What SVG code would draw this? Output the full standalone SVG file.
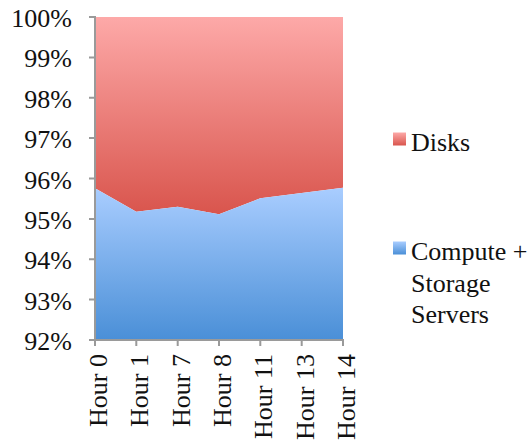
<svg xmlns="http://www.w3.org/2000/svg" width="532" height="443" viewBox="0 0 532 443">
  <style>
    .axis { stroke: #9a9a9a; stroke-width: 2; fill: none; }
  </style>
  <defs>
    <linearGradient id="gRed" gradientUnits="userSpaceOnUse" x1="0" y1="17" x2="0" y2="214">
      <stop offset="0" stop-color="#FDA9A8"/>
      <stop offset="1" stop-color="#D9554D"/>
    </linearGradient>
    <linearGradient id="gBlue" gradientUnits="userSpaceOnUse" x1="0" y1="188" x2="0" y2="340">
      <stop offset="0" stop-color="#A9CDFF"/>
      <stop offset="1" stop-color="#4A8FD7"/>
    </linearGradient>
    <linearGradient id="lRed" x1="0" y1="0" x2="0" y2="1">
      <stop offset="0" stop-color="#FDA9A8"/>
      <stop offset="1" stop-color="#D9554D"/>
    </linearGradient>
    <linearGradient id="lBlue" x1="0" y1="0" x2="0" y2="1">
      <stop offset="0" stop-color="#A9CDFF"/>
      <stop offset="1" stop-color="#4A8FD7"/>
    </linearGradient>
  </defs>
  <rect width="532" height="443" fill="#ffffff"/>

  <!-- stacked areas -->
  <g id="series-disks">
    <polygon fill="url(#gRed)" points="95,17 343,17 343,187.7 301.7,193 260.3,198.3 219,214.3 177.7,206.7 136.3,211.7 95,188.3"/>
  </g>
  <g id="series-servers">
    <polygon fill="url(#gBlue)" points="95,188.3 136.3,211.7 177.7,206.7 219,214.3 260.3,198.3 301.7,193 343,187.7 343,340 95,340"/>
  </g>

  <!-- axes and ticks -->
  <g id="axes">
    <path class="axis" d="M95,16 V341 M94,340 H344"/>
    <path class="axis" d="M89,17 H95 M89,57.4 H95 M89,97.8 H95 M89,138.1 H95 M89,178.5 H95 M89,218.9 H95 M89,259.3 H95 M89,299.6 H95 M89,340 H95"/>
    <path class="axis" d="M95,340 V346 M136.3,340 V346 M177.7,340 V346 M219,340 V346 M260.3,340 V346 M301.7,340 V346 M343,340 V346"/>
  </g>

  <g font-family="Liberation Serif, Times New Roman, serif" font-size="26" fill="#111">
    <!-- y axis labels -->
    <g id="y-labels" text-anchor="end">
      <text x="72" y="27">100%</text>
      <text x="72" y="67.4">99%</text>
      <text x="72" y="107.8">98%</text>
      <text x="72" y="148.1">97%</text>
      <text x="72" y="188.5">96%</text>
      <text x="72" y="228.9">95%</text>
      <text x="72" y="269.3">94%</text>
      <text x="72" y="309.6">93%</text>
      <text x="72" y="350">92%</text>
    </g>

    <!-- x axis labels -->
    <g id="x-labels" text-anchor="end">
      <text transform="translate(107,354) rotate(-90)">Hour 0</text>
      <text transform="translate(148.3,354) rotate(-90)">Hour 1</text>
      <text transform="translate(189.7,354) rotate(-90)">Hour 7</text>
      <text transform="translate(231,354) rotate(-90)">Hour 8</text>
      <text transform="translate(272.3,354) rotate(-90)">Hour 11</text>
      <text transform="translate(313.7,354) rotate(-90)">Hour 13</text>
      <text transform="translate(355,354) rotate(-90)">Hour 14</text>
    </g>

    <!-- legend -->
    <g id="legend-disks">
      <rect x="393" y="132.5" width="13" height="13" fill="url(#lRed)"/>
      <text x="411" y="151">Disks</text>
    </g>
    <g id="legend-servers">
      <rect x="393" y="241.5" width="13" height="13" fill="url(#lBlue)"/>
      <text x="411" y="259.5">Compute +</text>
      <text x="411" y="291.5">Storage</text>
      <text x="411" y="323">Servers</text>
    </g>
  </g>
</svg>
